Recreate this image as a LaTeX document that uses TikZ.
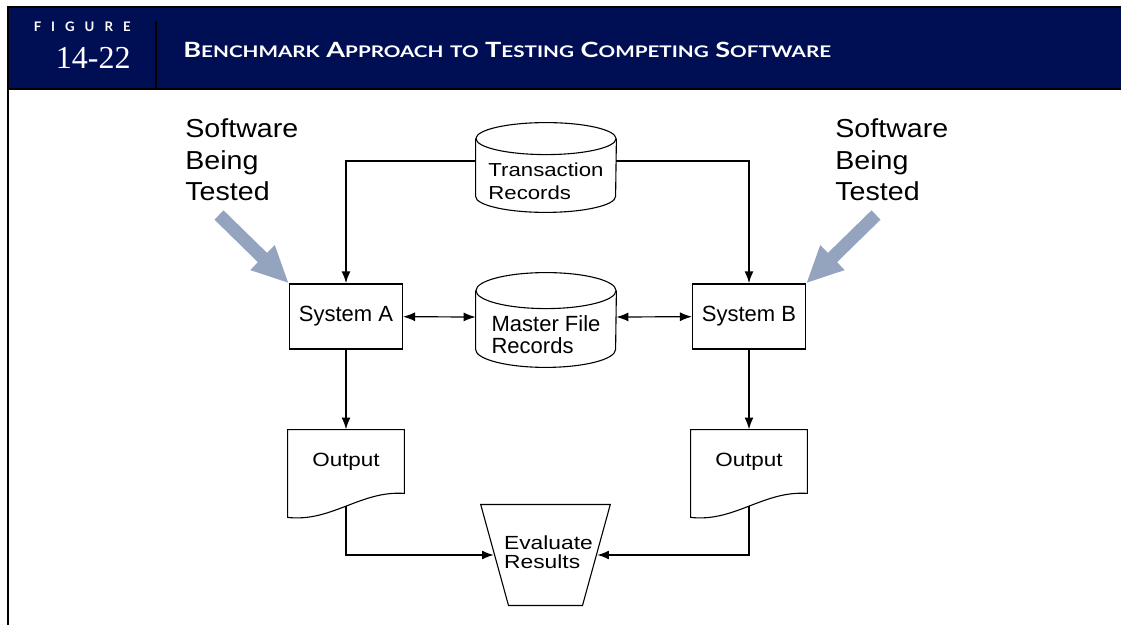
\documentclass[tikz,border=0pt]{standalone}
\usepackage{graphicx}
\usepackage{fontspec}
\setmainfont{Liberation Sans}
\newfontfamily\serifnum{Liberation Serif}
\newfontfamily\headfont{Lato}
\usetikzlibrary{arrows.meta,shapes.geometric}
\definecolor{navy}{RGB}{0,14,84}
\definecolor{pointer}{RGB}{148,164,190}
\newcommand\hcap[2]{#1{\fontsize{8}{8}\selectfont #2}}
\newcommand\widen[2][1.17]{\scalebox{#1}[1]{#2}}
\newcommand\rowtext[2][1]{\scalebox{#1}[1]{\begin{tabular}{@{}l@{}}#2\end{tabular}}}

\begin{document}
\begin{tikzpicture}[x=0.5pt, y=-0.5pt,
  box/.style={draw, line width=0.55pt, minimum width=56.5pt, minimum height=32.5pt, inner sep=0pt, font=\fontsize{11}{13}\selectfont},
  drum/.style={minimum width=70pt, inner sep=0pt},
  paper/.style={minimum width=58pt, minimum height=31.5pt, inner sep=0pt, font=\fontsize{9.6}{11}\selectfont},
  outline/.style={line width=0.55pt},
  flow/.style={line width=1pt, -{Latex[length=6pt,width=4.5pt]}},
  both/.style={line width=0.6pt, {Latex[length=6pt,width=4.5pt]}-{Latex[length=6pt,width=4.5pt]}},
  hint/.style={draw=pointer, line width=6.5pt, -{Triangle[length=18.5pt,width=16pt]}}
]
\useasboundingbox (0,0) rectangle (1121,625);

%% header
\draw[fill=navy, line width=1pt] (8,7) rectangle (1130,89);
\draw[line width=1pt] (8,89) -- (8,630);
\draw[line width=1pt] (156,21) -- (156,89);
\node[anchor=east, inner sep=0pt, text=white, font=\headfont\bfseries\fontsize{6.6}{6.6}\selectfont] (figword) at (131,27) {F\kern5pt I\kern5pt G\kern5pt U\kern5pt R\kern5pt E};
\node[anchor=base east, inner sep=0pt, text=white, font=\serifnum\fontsize{16}{16}\selectfont] (fignum) at (131,69) {14-22};
\node[anchor=base west, inner sep=0pt, text=white, font=\headfont\bfseries\fontsize{10.5}{10.5}\selectfont] (title) at (183,58)
  {\scalebox{1.29}[1]{\hcap{B}{ENCHMARK} \hcap{A}{PPROACH} \hcap{}{TO} \hcap{T}{ESTING} \hcap{C}{OMPETING} \hcap{S}{OFTWARE}}};

%% software labels
\node[anchor=west, inner sep=0pt, font=\fontsize{13}{15.75}\selectfont] (swA) at (185,163) {\rowtext[1.1]{Software\\Being\\Tested}};
\node[anchor=west, inner sep=0pt, font=\fontsize{13}{15.75}\selectfont] (swB) at (835,163) {\rowtext[1.1]{Software\\Being\\Tested}};

%% systems
\node[box] (sysA) at (346,316.5) {System A};
\node[box] (sysB) at (749,316.5) {System B};

%% records
\node[drum, minimum height=28.5pt, font=\fontsize{9.4}{11.5}\selectfont] (trans) at (546,183.5) {\rowtext[1.18]{Transaction\\Records}};
\draw[outline] ([yshift=8pt]trans.north) ellipse [x radius=35pt, y radius=8pt];
\draw[outline] ([yshift=8pt]trans.north west) -- ([yshift=8pt]trans.south west)
  arc [start angle=180, end angle=360, x radius=35pt, y radius=8pt] -- ([yshift=8pt]trans.north east);

\node[drum, minimum height=29pt, font=\fontsize{11}{11.2}\selectfont] (master) at (546,338) {\rowtext{Master File\\Records}};
\draw[outline] ([yshift=9pt]master.north) ellipse [x radius=35pt, y radius=9pt];
\draw[outline] ([yshift=9pt]master.north west) -- ([yshift=9pt]master.south west)
  arc [start angle=180, end angle=360, x radius=35pt, y radius=9pt] -- ([yshift=9pt]master.north east);

%% outputs
\node[paper] (outA) at (346,461.5) {\widen{Output}\hspace{5pt}};
\draw[outline] (outA.north west) -- (outA.north east) -- (outA.south east)
  .. controls +(-44,-3) and +(44,5) .. node[coordinate, pos=0.5] (outAe) {} ([yshift=-12pt]outA.south west) -- cycle;
\node[paper] (outB) at (749,461.5) {\widen{Output}\hspace{5pt}};
\draw[outline] (outB.north west) -- (outB.north east) -- (outB.south east)
  .. controls +(-44,-3) and +(44,5) .. node[coordinate, pos=0.5] (outBe) {} ([yshift=-12pt]outB.south west) -- cycle;

%% evaluate
\node[trapezium, shape border rotate=180, trapezium angle=74.6, trapezium stretches body,
  draw, outline, inner xsep=0pt, inner ysep=15.5pt,
  font=\fontsize{9.5}{9.5}\selectfont] (eval) at (545.5,555) {\makebox[37pt]{\hspace{3pt}\rowtext[1.2]{Evaluate\\Results}}};

%% arrows
\coordinate (tailA) at (219,215);
\coordinate (tailB) at (876,215);
\draw[hint] (tailA) -- (sysA.north west);
\draw[hint] (tailB) -- (sysB.north east);

\draw[flow] ([yshift=11pt]trans.west) -| (sysA);
\draw[flow] ([yshift=11pt]trans.east) -| (sysB);
\draw[both] (sysA) -- ([yshift=10.5pt]master.west);
\draw[both] (sysB) -- ([yshift=10.5pt]master.east);
\draw[flow] (sysA) -- (outA);
\draw[flow] (sysB) -- (outB);
\draw[flow] (outAe) |- (eval);
\draw[flow] (outBe) |- (eval);
\end{tikzpicture}
\end{document}
